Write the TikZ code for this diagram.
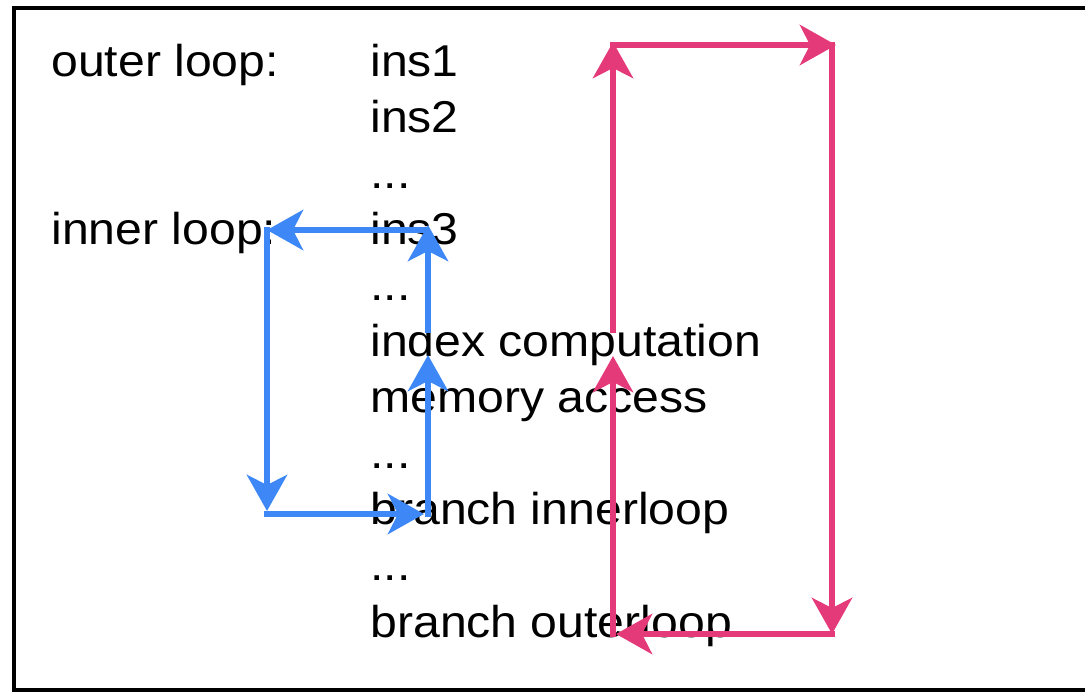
\documentclass[tikz,border=0pt]{standalone}
\usepackage{fontspec}
\setmainfont[FakeStretch=1.08]{Liberation Sans}
\usetikzlibrary{arrows.meta}
\definecolor{loopblue}{RGB}{61,135,247}
\definecolor{looppink}{RGB}{228,58,122}

\begin{document}
\begin{tikzpicture}[x=0.5pt, y=-0.5pt,
        code/.style={anchor=base west, inner sep=0pt, font=\fontsize{22.3}{26}\selectfont},
        inarrow/.style={loopblue, line width=3.4pt, -{Stealth[length=18pt, width=20pt, inset=5pt]}},
        outarrow/.style={looppink, line width=3.4pt, -{Stealth[length=18pt, width=20pt, inset=5pt]}}]
        \useasboundingbox (0,0) rectangle (1085,692);
        \clip (0,0) rectangle (1085,692);
        \draw[line width=2pt] (14,8) rectangle (1100,690);

        % labels
        \node[code] (outer) at (51,76) {outer loop:};
        \node[code] (inner) at (51,244.3) {inner loop:};

        % instructions
        \node[code] (ins1) at (370,76) {ins1};
        \node[code] (ins2) at (370,132.1) {ins2};
        \node[code] (dots1) at (370,188.2) {...};
        \node[code] (ins3) at (370,244.3) {ins3};
        \node[code] (dots2) at (370,300.4) {...};
        \node[code] (index) at (370,356.5) {index computation};
        \node[code] (mem) at (370,412.6) {memory access};
        \node[code] (dots3) at (370,468.7) {...};
        \node[code] (brin) at (370,524.8) {branch innerloop};
        \node[code] (dots4) at (370,580.9) {...};
        \node[code] (brout) at (370,637) {branch outerloop};

        % inner loop corners
        \coordinate (bstart) at (428,333);
        \coordinate (btopr) at (428,225);
        \coordinate (btopl) at (267,230);
        \coordinate (bbotl) at (267,511);
        \coordinate (bbotr) at (424,514);
        \coordinate (bmid) at (428,355);

        \draw[inarrow] (bstart) -- (btopr);
        \draw[inarrow] (btopr |- btopl) -- (btopl);
        \draw[inarrow] (bbotl |- btopl) ++(0,-3) -- (bbotl);
        \draw[inarrow] (264,514) -- (bbotr);
        \draw[inarrow] (428,517) -- (bmid);

        % outer loop corners
        \coordinate (pmid) at (613,356);
        \coordinate (pstart) at (613,333);
        \coordinate (ptopl) at (613,42);
        \coordinate (ptopr) at (836,45);
        \coordinate (pbotr) at (832,634);
        \coordinate (pbotl) at (616,634);

        \draw[outarrow] (613,637) -- (pmid);
        \draw[outarrow] (pstart) -- (ptopl);
        \draw[outarrow] (610,45) -- (ptopr);
        \draw[outarrow] (832,42) -- (pbotr);
        \draw[outarrow] (835,634) -- (pbotl);
\end{tikzpicture}
\end{document}
